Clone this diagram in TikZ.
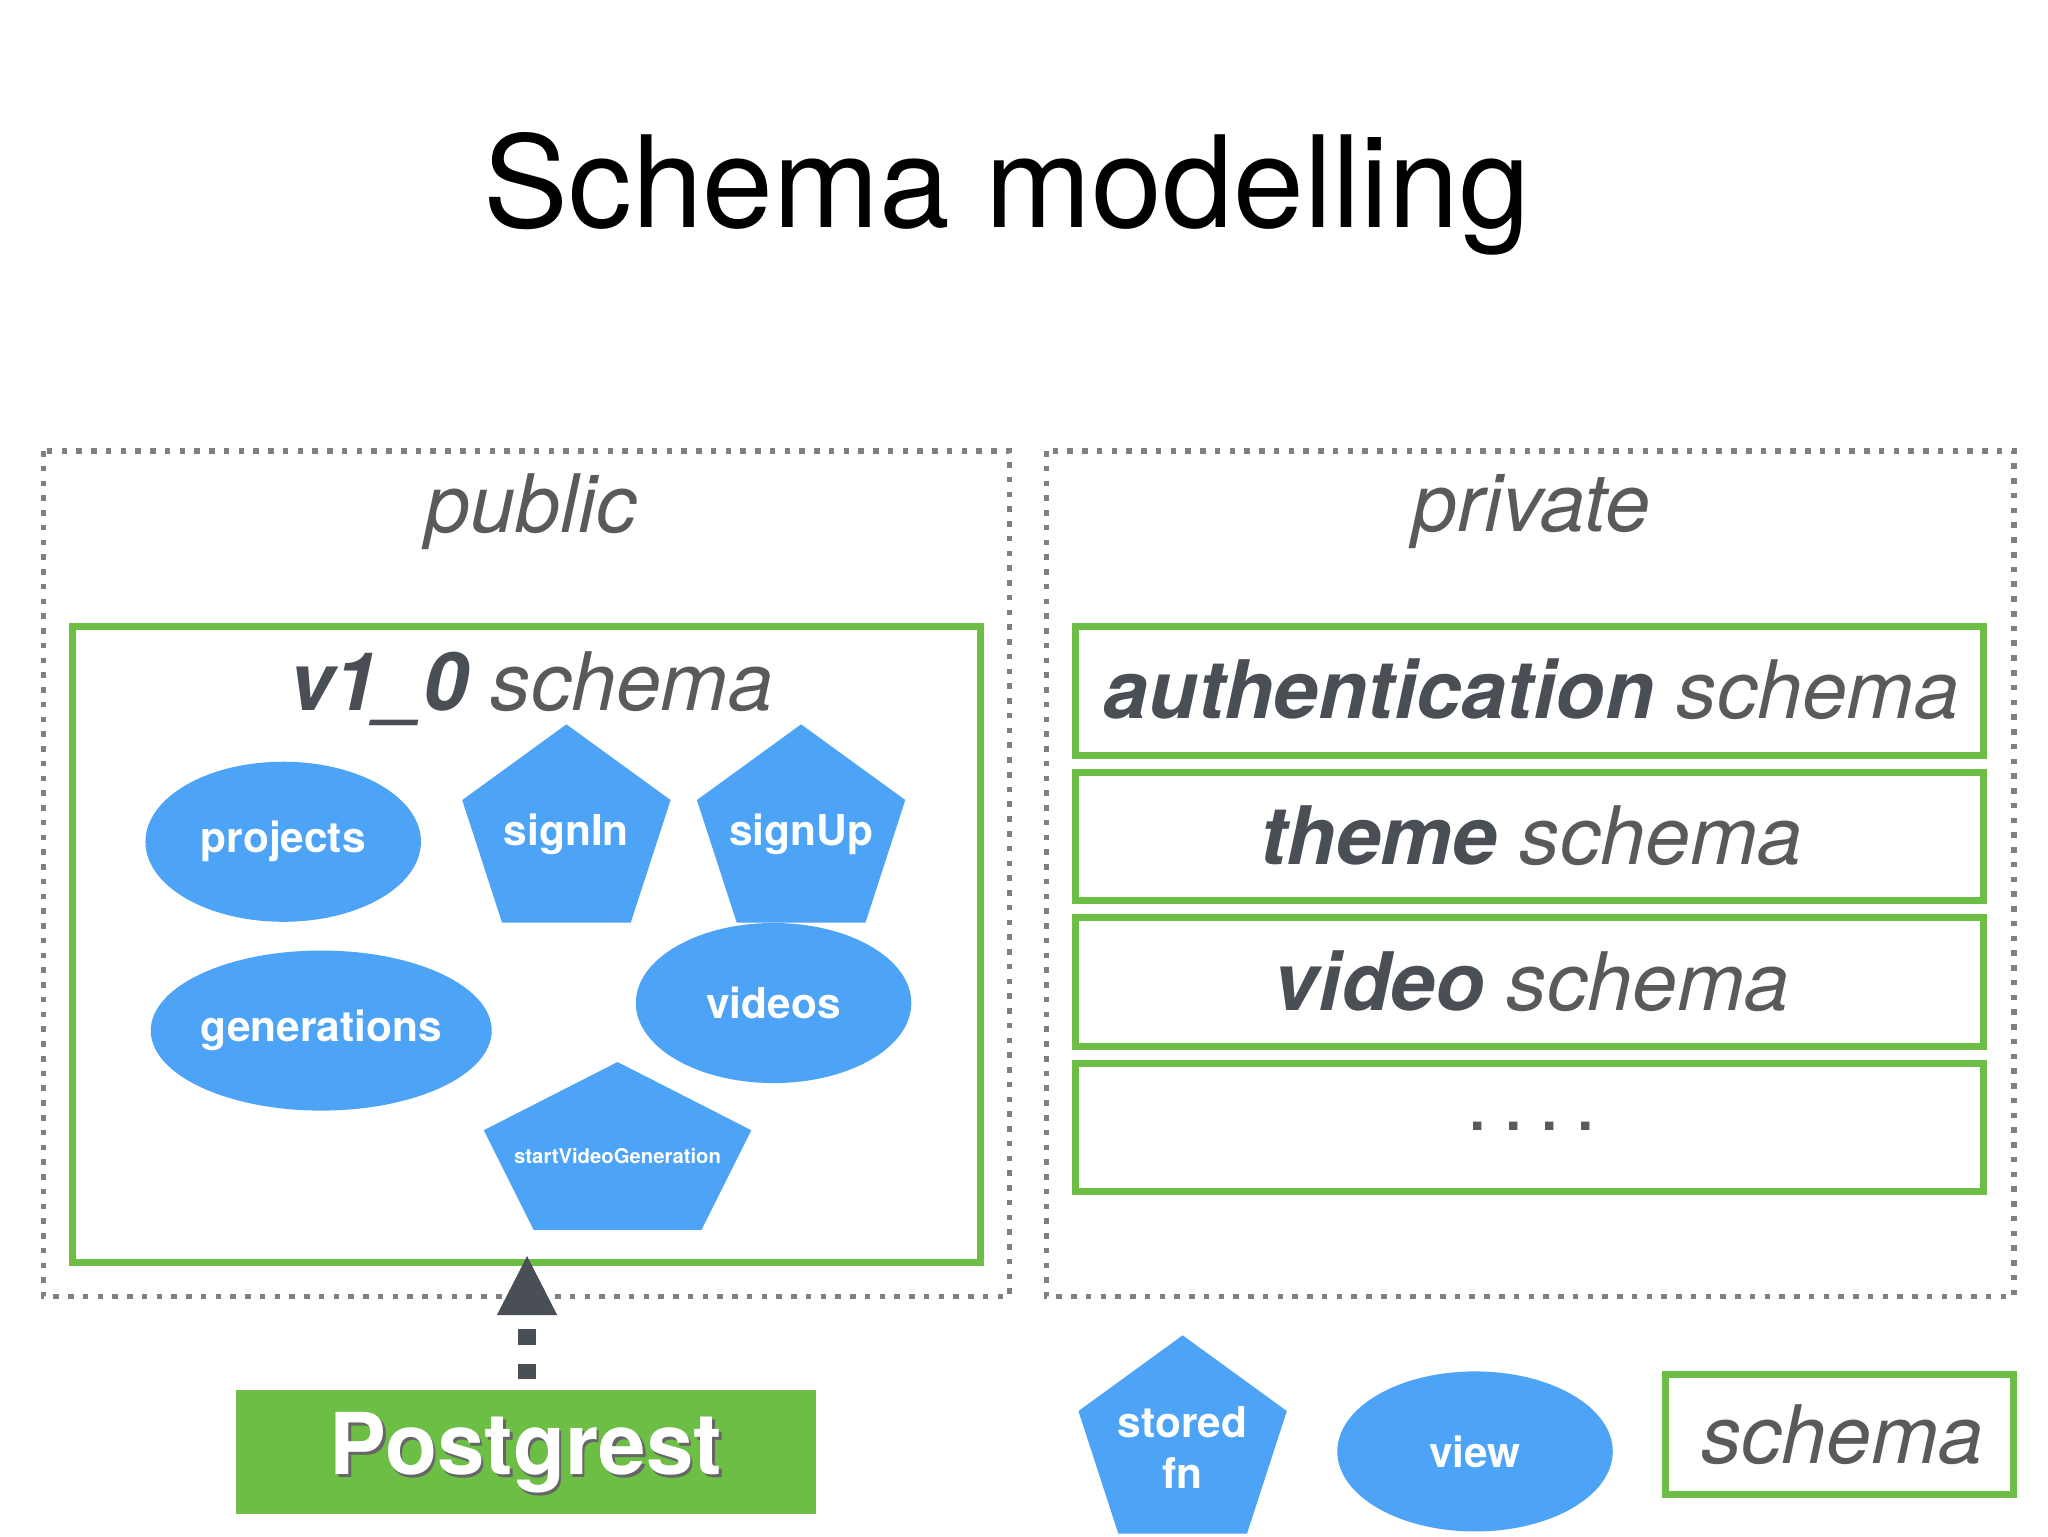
\documentclass[tikz,border=0pt]{standalone}
\usepackage{fontspec}
\setmainfont{TeX Gyre Heros}
\usetikzlibrary{shapes.geometric}
\definecolor{bl}{HTML}{4DA3F5}
\definecolor{gr}{HTML}{6DBE45}
\definecolor{dg}{HTML}{4A4E55}
\definecolor{lg}{HTML}{5A5A5A}
\begin{document}
\begin{tikzpicture}[x=0.01cm,y=-0.01cm,
 dotbox/.style={draw=gray,dotted,line width=1.2pt},
 gbox/.style={draw=gr,line width=1.5pt},
 lbl/.style={text=white,font=\bfseries\fontsize{9.2}{11}\selectfont},
 ell/.style={ellipse,fill=bl,inner sep=0pt,lbl},
 pent/.style={regular polygon,regular polygon sides=5,fill=bl,minimum size=1.67cm,inner sep=0pt},
 big/.style={font=\itshape\fontsize{17.5}{20}\selectfont,text=lg}]
\useasboundingbox (0,0) rectangle (1562,1172);
\node[font=\fontsize{27.6}{32}\selectfont] (title) at (768,148) {Schema modelling};
\draw[dotbox] (33,344) rectangle (770,989);
\draw[dotbox] (798,344) rectangle (1536,989);
\node[big] (pub) at (405,390) {public};
\node[big] (priv) at (1168,390) {private};
\draw[gbox] (55,478) rectangle (748,963);
\node[big] (v1) at (405,525) {\textcolor{dg}{\bfseries v1\_0} schema};
\node[ell,minimum width=2.1cm,minimum height=1.22cm] (projects) at (216,642) {projects};
\node[ell,minimum width=2.5cm,minimum height=1.22cm] (generations) at (245,786) {generations};
\node[ell,minimum width=2.1cm,minimum height=1.22cm] (videos) at (590,765) {videos};
\node[pent] (signin) at (432,636) {};
\node[lbl] at (432,636) {signIn};
\node[pent] (signup) at (611,636) {};
\node[lbl] at (611,636) {signUp};
\fill[bl] (471,810) -- (573,862) -- (535,938) -- (407,938) -- (369,862) -- cycle;
\node[text=white,font=\bfseries\fontsize{4.4}{5}\selectfont] (svg) at (471,882) {startVideoGeneration};
\foreach \y/\t [count=\i] in {478/{\textcolor{dg}{\bfseries authentication} schema},589/{\textcolor{dg}{\bfseries theme} schema},700/{\textcolor{dg}{\bfseries video} schema},811/{\upshape .\,.\,.\,.}}{
 \draw[gbox] (820,\y) rectangle (1513,\y+98);
 \node[big] (s\i) at (1168,\y+48) {\t};
}
\draw[fill=gr,draw=none] (180,1060) rectangle (622,1155);
\node[font=\bfseries\fontsize{18.5}{22}\selectfont,text=black!60] at (403,1110) {Postgrest};
\node[font=\bfseries\fontsize{18.5}{22}\selectfont,text=white] (pg) at (401,1108) {Postgrest};
\coordinate (tip) at (402,958);
\draw[dg,line width=4pt,dash pattern=on 0.12cm off 0.14cm] (402,1052) -- (402,985);
\fill[dg] (tip) -- (425,1003) -- (379,1003) -- cycle;
\node[pent] (sf) at (902,1102) {};
\node[lbl,align=center] at (902,1104) {stored\\fn};
\node[ell,minimum width=2.1cm,minimum height=1.22cm] (view) at (1125,1107) {view};
\draw[gbox] (1270,1048) rectangle (1536,1140);
\node[big] (leg) at (1405,1094) {schema};
\end{tikzpicture}
\end{document}
